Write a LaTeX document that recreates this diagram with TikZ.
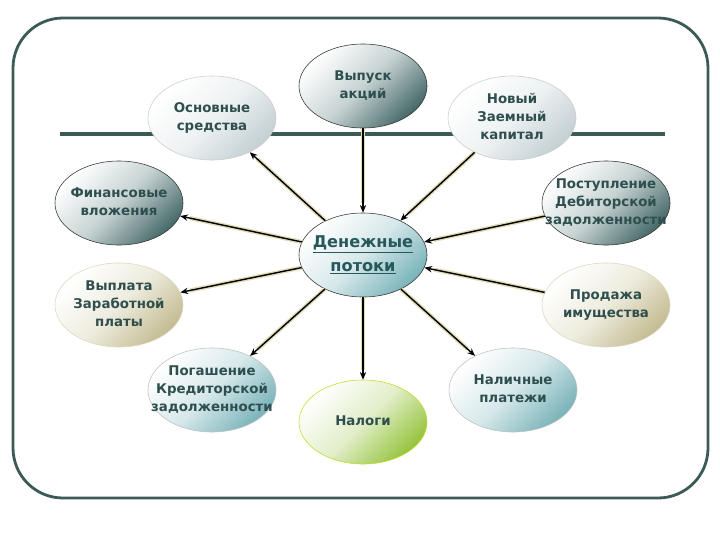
\documentclass[tikz,border=0pt]{standalone}
\usepackage{fontspec}
\setmainfont{DejaVu Sans}
\usetikzlibrary{shapes.geometric,arrows.meta}
\definecolor{framec}{RGB}{60,90,86}
\definecolor{ovaltext}{RGB}{47,79,79}
\definecolor{moneytext}{RGB}{38,88,92}
\definecolor{darkc}{RGB}{72,106,106}
\definecolor{darkm}{RGB}{198,210,210}
\definecolor{greyc}{RGB}{196,208,212}
\definecolor{greym}{RGB}{238,242,243}
\definecolor{tealc}{RGB}{122,180,186}
\definecolor{tealm}{RGB}{214,232,234}
\definecolor{beigec}{RGB}{196,188,146}
\definecolor{beigem}{RGB}{238,236,222}
\definecolor{greenc}{RGB}{150,196,62}
\definecolor{greenm}{RGB}{226,238,202}
\definecolor{flowshade}{RGB}{224,220,184}
% text of an oval that may stick out of it, as in the slide
\newcommand{\ovaltxt}[1]{\smash{\makebox[0pt]{\raisebox{-.25em}{\begin{tabular}{@{}c@{}}#1\end{tabular}}}}}
\begin{document}
\begin{tikzpicture}[x=0.025cm, y=-0.025cm,
    every node/.style={ellipse, minimum width=3.2cm, minimum height=2.1cm, inner sep=0pt,
      text=ovaltext, line width=.4pt,
      font=\bfseries\fontsize{9.5}{12.75}\selectfont},
    darkoval/.style={draw=black!80, top color=white, bottom color=darkc, middle color=darkm, shading angle=45},
    greyoval/.style={draw=black!20, top color=white, bottom color=greyc, middle color=greym, shading angle=45},
    tealoval/.style={draw=black!25, top color=white, bottom color=tealc, middle color=tealm, shading angle=45},
    beigeoval/.style={draw=beigec!60, top color=white, bottom color=beigec, middle color=beigem, shading angle=45},
    greenoval/.style={draw=greenc!60!yellow, top color=white, bottom color=greenc, middle color=greenm, shading angle=45},
    flow/.style={-{Stealth[length=5.5pt,width=4.5pt]}, line width=1pt,
      preaction={draw=flowshade, line width=3pt, -, shorten >=7pt}}]
  \useasboundingbox (0,0) rectangle (720,540);
  \draw [framec, line width=2pt, rounded corners=1.25cm] (13,18) rectangle (708,498);
  \draw [framec, line width=2.8pt] (60,134) -- (665,134);
  \node [greyoval] (fixed) at (212,118) {\ovaltxt{Основные\\средства}};
  \node [darkoval] (shares) at (363,86) {\ovaltxt{Выпуск\\акций}};
  \node [greyoval] (loan) at (512,118) {\ovaltxt{Новый\\Заемный\\капитал}};
  \node [darkoval] (invest) at (119,203) {\ovaltxt{Финансовые\\вложения}};
  \node [darkoval] (receiv) at (606,203) {\ovaltxt{Поступление\\Дебиторской\\задолженности}};
  \node [tealoval, draw=black!80, text=moneytext, font=\bfseries\fontsize{11.5}{17}\selectfont]
    (money) at (363,255) {\ovaltxt{\underline{Денежные}\\\underline{потоки}}};
  \node [beigeoval] (wages) at (119,305) {\ovaltxt{Выплата\\Заработной\\платы}};
  \node [beigeoval] (sale) at (606,305) {\ovaltxt{Продажа\\имущества}};
  \node [tealoval] (payoff) at (212,390) {\ovaltxt{Погашение\\Кредиторской\\задолженности}};
  \node [greenoval] (taxes) at (363,422) {\ovaltxt{Налоги}};
  \node [tealoval] (cash) at (513,390) {\ovaltxt{Наличные\\платежи}};
  \draw [flow] (money) -- (fixed);
  \draw [flow] (money) -- (invest);
  \draw [flow] (money) -- (wages);
  \draw [flow] (money) -- (payoff);
  \draw [flow] (money) -- (taxes);
  \draw [flow] (money) -- (cash);
  \draw [flow] (shares) -- (money);
  \draw [flow] (loan) -- (money);
  \draw [flow] (receiv) -- (money);
  \draw [flow] (sale) -- (money);
\end{tikzpicture}
\end{document}
